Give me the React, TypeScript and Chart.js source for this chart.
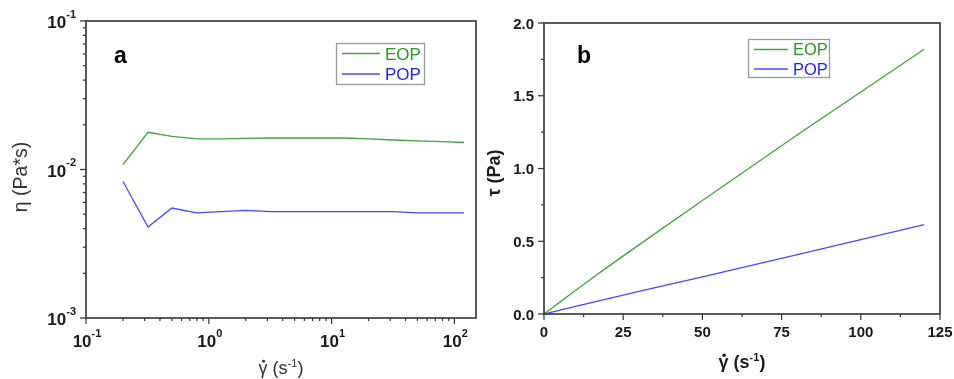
import React, { useEffect, useRef } from "react";
import { Chart, registerables } from "chart.js";
Chart.register(...registerables);

// ---------- data ----------
const shearRate = [0.2, 0.32, 0.5, 0.8, 1.26, 2, 3.2, 5, 8, 12.6, 20, 32, 50, 80, 120];
const viscosityEOP = [0.0108, 0.0178, 0.0167, 0.0161, 0.0161, 0.0162, 0.0163, 0.0163, 0.0163, 0.0163, 0.0161, 0.0158, 0.0156, 0.0154, 0.0152];
const viscosityPOP = [0.0083, 0.0041, 0.0055, 0.0051, 0.0052, 0.0053, 0.0052, 0.0052, 0.0052, 0.0052, 0.0052, 0.0052, 0.0051, 0.0051, 0.0051];
const stressRate = [0, 0.2, 0.32, 0.5, 0.8, 1.26, 2, 3.2, 5, 8, 12.6, 20, 32, 50, 80, 120];
const stressEOP = [0, 0.0022, 0.0057, 0.0084, 0.0129, 0.0203, 0.0324, 0.052, 0.0815, 0.13, 0.205, 0.322, 0.506, 0.78, 1.232, 1.82];
const stressPOP = [0, 0.0017, 0.0013, 0.0028, 0.0041, 0.0066, 0.0106, 0.0166, 0.026, 0.0416, 0.0655, 0.104, 0.166, 0.255, 0.408, 0.615];
const seriesNames = ["EOP", "POP"];
const logXExponents = [-1, 0, 1, 2];
const logYExponents = [-3, -2, -1];
const linXTicks = [0, 25, 50, 75, 100, 125];
const linYTicks = [0, 0.5, 1, 1.5, 2];
const linYLabels = ["0.0", "0.5", "1.0", "1.5", "2.0"];

const LINE_COLORS = ["#43a243", "#4848ff"];
const TEXT_COLORS = ["#259a25", "#1c1cff"];
const FONT = '"Liberation Sans", Arial, Helvetica, sans-serif';
const AXIS = "#333333";

type Seg = { t: string; size: number; bold?: boolean; dy?: number; dot?: boolean };

function segFont(s: Seg) {
  return `${s.bold ? "bold " : ""}${s.size}px ${FONT}`;
}

function drawSegs(ctx: CanvasRenderingContext2D, segs: Seg[], x: number, y: number, align: string, color: string) {
  ctx.save();
  ctx.fillStyle = color;
  ctx.textBaseline = "alphabetic";
  ctx.textAlign = "left";
  const widths = segs.map((s) => {
    ctx.font = segFont(s);
    return ctx.measureText(s.t).width;
  });
  const total = widths.reduce((a, b) => a + b, 0);
  let cx = align === "left" ? x : align === "center" ? x - total / 2 : x - total;
  segs.forEach((s, i) => {
    ctx.font = segFont(s);
    ctx.fillText(s.t, cx, y + (s.dy || 0));
    if (s.dot) {
      ctx.beginPath();
      ctx.arc(cx + widths[i] / 2 + 0.5, y - s.size * 0.52 - 3.4, s.bold ? 1.7 : 1.4, 0, Math.PI * 2);
      ctx.fill();
    }
    cx += widths[i];
  });
  ctx.restore();
}

function powLabel(exp: number, size: number, supSize: number): Seg[] {
  return [
    { t: "10", size, bold: true },
    { t: String(exp), size: supSize, bold: true, dy: -10.5 },
  ];
}

type PanelCfg = {
  log: boolean;
  letter: string;
  letterX: number;
  legend: { x: number; y: number; w: number; h: number; l1: number; l2: number; rows: number[]; tx: number; size: number };
  xTitle: { x: number; y: number; bold: boolean; color: string; size: number };
  yTitle: { x: number; y: number; color: string; segs: Seg[] };
};

function tickLine(ctx: CanvasRenderingContext2D, x1: number, y1: number, x2: number, y2: number) {
  ctx.beginPath();
  ctx.moveTo(x1, y1);
  ctx.lineTo(x2, y2);
  ctx.stroke();
}

function makePlugin(cfg: PanelCfg) {
  return {
    id: "panelDecor" + cfg.letter,
    afterDraw(chart: any) {
      const ctx: CanvasRenderingContext2D = chart.ctx;
      const { left, right, top, bottom } = chart.chartArea;
      const xs = chart.scales.x;
      const ys = chart.scales.y;
      ctx.save();
      ctx.strokeStyle = AXIS;
      ctx.lineWidth = 1.2;
      const xMaj: number[] = [];
      const xMin: number[] = [];
      const yMaj: number[] = [];
      const yMin: number[] = [];
      if (cfg.log) {
        logXExponents.forEach((e) => {
          xMaj.push(Math.pow(10, e));
          for (let k = 2; k <= 9; k++) {
            const v = k * Math.pow(10, e);
            if (v <= xs.max) xMin.push(v);
          }
        });
        logYExponents.forEach((e) => {
          yMaj.push(Math.pow(10, e));
          if (e < -1) for (let k = 2; k <= 9; k++) yMin.push(k * Math.pow(10, e));
        });
      } else {
        linXTicks.forEach((v, i) => {
          xMaj.push(v);
          if (i < linXTicks.length - 1) xMin.push((v + linXTicks[i + 1]) / 2);
        });
        linYTicks.forEach((v, i) => {
          yMaj.push(v);
          if (i < linYTicks.length - 1) yMin.push((v + linYTicks[i + 1]) / 2);
        });
      }
      xMaj.forEach((v) => {
        const px = xs.getPixelForValue(v);
        tickLine(ctx, px, bottom, px, bottom + 6);
      });
      xMin.forEach((v) => {
        const px = xs.getPixelForValue(v);
        tickLine(ctx, px, bottom, px, bottom + 3);
      });
      yMaj.forEach((v) => {
        const py = ys.getPixelForValue(v);
        tickLine(ctx, left - 6, py, left, py);
      });
      yMin.forEach((v) => {
        const py = ys.getPixelForValue(v);
        tickLine(ctx, left - 3, py, left, py);
      });
      ctx.lineWidth = 1.6;
      ctx.strokeRect(left, top, right - left, bottom - top);
      ctx.restore();

      if (cfg.log) {
        logXExponents.forEach((e) => {
          const px = xs.getPixelForValue(Math.pow(10, e));
          drawSegs(ctx, powLabel(e, 17, 11), px + 1, bottom + 29, "center", "#1a1a1a");
        });
        logYExponents.forEach((e) => {
          const py = ys.getPixelForValue(Math.pow(10, e));
          drawSegs(ctx, powLabel(e, 17, 11), left - 10, py + 7, "right", "#1a1a1a");
        });
      } else {
        linXTicks.forEach((v) => {
          const px = xs.getPixelForValue(v);
          drawSegs(ctx, [{ t: String(v), size: 15, bold: true }], px, bottom + 23, "center", "#1a1a1a");
        });
        linYTicks.forEach((v, i) => {
          const py = ys.getPixelForValue(v);
          drawSegs(ctx, [{ t: linYLabels[i], size: 15, bold: true }], left - 10, py + 5.5, "right", "#1a1a1a");
        });
      }

      const xt = cfg.xTitle;
      drawSegs(
        ctx,
        [
          { t: "γ", size: xt.size, bold: xt.bold, dot: true },
          { t: " (s", size: xt.size, bold: xt.bold },
          { t: "-1", size: 11, bold: xt.bold, dy: -7.5 },
          { t: ")", size: xt.size, bold: xt.bold },
        ],
        xt.x,
        xt.y,
        "center",
        xt.color
      );
      const yt = cfg.yTitle;
      ctx.save();
      ctx.translate(yt.x, yt.y);
      ctx.rotate(-Math.PI / 2);
      drawSegs(ctx, yt.segs, 0, 0, "center", yt.color);
      ctx.restore();

      drawSegs(ctx, [{ t: cfg.letter, size: 23, bold: true }], cfg.letterX, 63, "left", "#000");

      const lg = cfg.legend;
      ctx.save();
      ctx.strokeStyle = "#9a9a9a";
      ctx.lineWidth = 1.3;
      ctx.strokeRect(lg.x, lg.y, lg.w, lg.h);
      chart.data.datasets.forEach((ds: any, i: number) => {
        ctx.strokeStyle = ds.borderColor;
        ctx.lineWidth = 1.3;
        tickLine(ctx, lg.l1, lg.rows[i], lg.l2, lg.rows[i]);
        drawSegs(ctx, [{ t: ds.label, size: lg.size }], lg.tx, lg.rows[i] + lg.size * 0.36, "left", TEXT_COLORS[i]);
      });
      ctx.restore();
    },
  };
}

function makeConfig(cfg: PanelCfg, padRight: number, padTop: number, xH: number, yW: number, data: any, scales: any) {
  return {
    type: "line" as const,
    data,
    options: {
      animation: false as const,
      responsive: false,
      devicePixelRatio: 1,
      layout: { padding: { left: 0, right: padRight, top: padTop, bottom: 0 } },
      plugins: { legend: { display: false }, tooltip: { enabled: false } },
      elements: { point: { radius: 0 }, line: { borderWidth: 1.3, tension: 0 } },
      scales: {
        x: {
          ...scales.x,
          position: "bottom",
          grid: { display: false },
          border: { display: false },
          ticks: { display: false },
          afterFit: (s: any) => {
            s.height = xH;
          },
        },
        y: {
          ...scales.y,
          position: "left",
          grid: { display: false },
          border: { display: false },
          ticks: { display: false },
          afterFit: (s: any) => {
            s.width = yW;
          },
        },
      },
    },
    plugins: [makePlugin(cfg)],
  };
}

function pts(xs: number[], ys: number[]) {
  return xs.map((x, i) => ({ x, y: ys[i] }));
}

export default function App() {
  const leftRef = useRef<HTMLCanvasElement>(null);
  const rightRef = useRef<HTMLCanvasElement>(null);

  useEffect(() => {
    const leftCfg: PanelCfg = {
      log: true,
      letter: "a",
      letterX: 114,
      legend: { x: 336.5, y: 43.5, w: 88, h: 41, l1: 342, l2: 380, rows: [53.5, 74], tx: 385, size: 17 },
      xTitle: { x: 281, y: 374, bold: false, color: "#333", size: 18 },
      yTitle: {
        x: 27,
        y: 177,
        color: "#333",
        segs: [{ t: "η (Pa*s)", size: 19.5 }],
      },
    };
    const rightCfg: PanelCfg = {
      log: false,
      letter: "b",
      letterX: 97,
      legend: { x: 268.5, y: 39.5, w: 81, h: 38, l1: 274, l2: 308, rows: [49.5, 69], tx: 313, size: 16.5 },
      xTitle: { x: 262, y: 368, bold: true, color: "#1a1a1a", size: 18 },
      yTitle: {
        x: 20,
        y: 173,
        color: "#1a1a1a",
        segs: [{ t: "τ (Pa)", size: 18, bold: true }],
      },
    };
    const leftData = {
      datasets: [
        { label: seriesNames[0], data: pts(shearRate, viscosityEOP), borderColor: LINE_COLORS[0], backgroundColor: LINE_COLORS[0] },
        { label: seriesNames[1], data: pts(shearRate, viscosityPOP), borderColor: LINE_COLORS[1], backgroundColor: LINE_COLORS[1] },
      ],
    };
    const rightData = {
      datasets: [
        { label: seriesNames[0], data: pts(stressRate, stressEOP), borderColor: LINE_COLORS[0], backgroundColor: LINE_COLORS[0] },
        { label: seriesNames[1], data: pts(stressRate, stressPOP), borderColor: LINE_COLORS[1], backgroundColor: LINE_COLORS[1] },
      ],
    };
    const c1 = new Chart(
      leftRef.current as HTMLCanvasElement,
      makeConfig(leftCfg, 4, 21, 61, 86, leftData, {
        x: { type: "logarithmic", min: 0.1, max: 150 },
        y: { type: "logarithmic", min: 0.001, max: 0.1 },
      }) as any
    );
    const c2 = new Chart(
      rightRef.current as HTMLCanvasElement,
      makeConfig(rightCfg, 14, 23, 65, 64, rightData, {
        x: { type: "linear", min: 0, max: 125 },
        y: { type: "linear", min: 0, max: 2 },
      }) as any
    );
    return () => {
      c1.destroy();
      c2.destroy();
    };
  }, []);

  return (
    <div style={{ position: "absolute", left: 0, top: 0, width: 954, height: 379, background: "#fff" }}>
      <canvas ref={leftRef} width={480} height={379} style={{ position: "absolute", left: 0, top: 0, width: 480, height: 379 }} />
      <canvas ref={rightRef} width={474} height={379} style={{ position: "absolute", left: 480, top: 0, width: 474, height: 379 }} />
    </div>
  );
}
